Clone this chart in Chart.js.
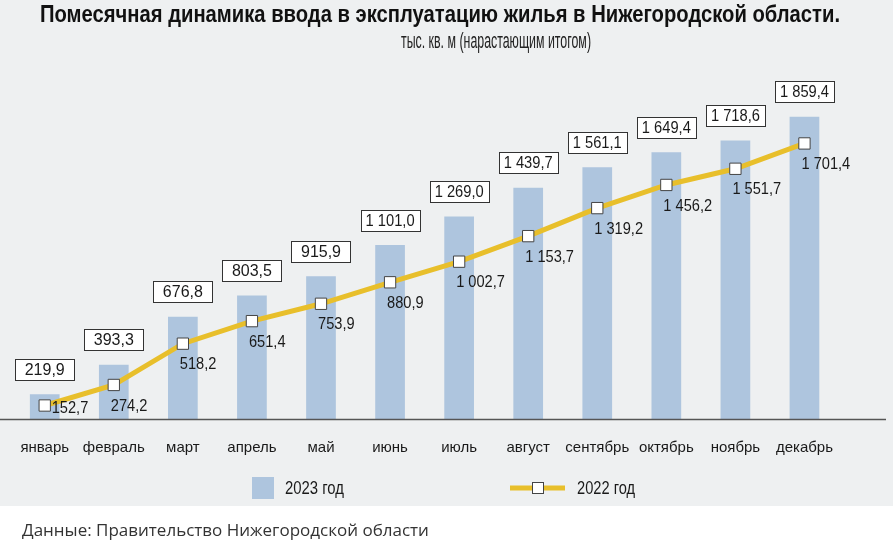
<!DOCTYPE html>
<html lang="ru">
<head>
<meta charset="utf-8">
<script src="https://cdn.jsdelivr.net/npm/chart.js@4"></script>
<style>
  html, body { margin: 0; padding: 0; background: #fff; }
  canvas { display: block; }
</style>
</head>
<body>
<canvas id="chart" width="893" height="553"></canvas>
<script>
const months = ['январь', 'февраль', 'март', 'апрель', 'май', 'июнь', 'июль',
  'август', 'сентябрь', 'октябрь', 'ноябрь', 'декабрь'];
const values2023 = [219.9, 393.3, 676.8, 803.5, 915.9, 1101.0, 1269.0, 1439.7, 1561.1, 1649.4, 1718.6, 1859.4];
const values2022 = [152.7, 274.2, 518.2, 651.4, 753.9, 880.9, 1002.7, 1153.7, 1319.2, 1456.2, 1551.7, 1701.4];
const seriesNames = ['2023 год', '2022 год'];

const TITLE = 'Помесячная динамика ввода в эксплуатацию жилья в Нижегородской области.';
const SUBTITLE = 'тыс. кв. м (нарастающим итогом)';
const SOURCE = 'Данные: Правительство Нижегородской области';

const FONT = '"Liberation Sans", Arial, sans-serif';
const BAR_COLOR = '#aec5de';
const LINE_COLOR = '#e8bf2b';
const BG_GRAY = '#eef0f1';

// 1 859,4
function fmt(v) {
  const [i, d] = v.toFixed(1).split('.');
  return i.replace(/\B(?=(\d{3})+(?!\d))/g, ' ') + ',' + d;
}

// текст, сжатый по ширине (в оригинале узкий шрифт)
function fitText(ctx, text, x, y, maxW) {
  const w = ctx.measureText(text).width;
  if (w > maxW) {
    ctx.save();
    ctx.translate(x, y);
    ctx.scale(maxW / w, 1);
    ctx.fillText(text, 0, 0);
    ctx.restore();
  } else {
    ctx.fillText(text, x, y);
  }
}

const decorPlugin = {
  id: 'decor',
  beforeDraw(chart) {
    const ctx = chart.ctx;
    ctx.save();
    ctx.fillStyle = '#fff';
    ctx.fillRect(0, 0, chart.width, chart.height);
    ctx.fillStyle = BG_GRAY;
    ctx.fillRect(0, 0, chart.width, 506);

    // заголовок
    ctx.fillStyle = '#111';
    ctx.textAlign = 'center';
    ctx.textBaseline = 'middle';
    ctx.font = 'bold 23px ' + FONT;
    fitText(ctx, TITLE, 440, 16, 800);
    ctx.font = '22px ' + FONT;
    ctx.fillStyle = '#222';
    fitText(ctx, SUBTITLE, 496, 42, 190);

    // источник
    ctx.textAlign = 'left';
    ctx.font = '17px "Open Sans", sans-serif';
    ctx.fillStyle = '#333';
    ctx.fillText(SOURCE, 22, 531);
    ctx.restore();
  },
  afterDatasetsDraw(chart) {
    const ctx = chart.ctx;
    const area = chart.chartArea;
    ctx.save();
    // ось
    ctx.strokeStyle = '#555';
    ctx.lineWidth = 1.5;
    ctx.beginPath();
    ctx.moveTo(0, area.bottom + 0.5);
    ctx.lineTo(886, area.bottom + 0.5);
    ctx.stroke();

    // подписи столбцов в рамках
    ctx.font = '16px ' + FONT;
    ctx.textAlign = 'center';
    ctx.textBaseline = 'middle';
    chart.getDatasetMeta(0).data.forEach((bar, i) => {
      const text = fmt(values2023[i]);
      const w = 59;
      const h = 21;
      const bx = Math.round(bar.x - w / 2);
      const by = Math.round(bar.y - 14.5 - h);
      ctx.fillStyle = '#fff';
      ctx.fillRect(bx, by, w, h);
      ctx.strokeStyle = '#333';
      ctx.lineWidth = 1;
      ctx.strokeRect(bx + 0.5, by + 0.5, w, h);
      ctx.fillStyle = '#1a1a1a';
      fitText(ctx, text, bar.x, by + h / 2 + 1, w - 10);
    });

    // подписи линии
    ctx.font = '17px ' + FONT;
    ctx.textAlign = 'left';
    chart.getDatasetMeta(1).data.forEach((pt, i) => {
      ctx.fillStyle = '#1a1a1a';
      let tx = pt.x - 3;
      let ty = pt.y + 21;
      // у самой оси подпись уходит вправо от маркера
      if (ty + 8 > area.bottom) {
        tx = pt.x + 7;
        ty = pt.y + 3;
      }
      ctx.save();
      ctx.translate(tx, ty);
      ctx.scale(0.86, 1);
      ctx.fillText(fmt(values2022[i]), 0, 0);
      ctx.restore();
    });
    ctx.restore();
  },
  afterDraw(chart) {
    const ctx = chart.ctx;
    ctx.save();
    // легенда
    const ly = 488;
    ctx.fillStyle = BAR_COLOR;
    ctx.fillRect(252, ly - 11, 22, 22);
    ctx.fillStyle = '#1a1a1a';
    ctx.font = '18px ' + FONT;
    ctx.textAlign = 'left';
    ctx.textBaseline = 'middle';
    fitText(ctx, seriesNames[0], 285, ly + 1, 59);

    ctx.strokeStyle = LINE_COLOR;
    ctx.lineWidth = 5;
    ctx.beginPath();
    ctx.moveTo(510, ly);
    ctx.lineTo(565, ly);
    ctx.stroke();
    ctx.fillStyle = '#fff';
    ctx.fillRect(532, ly - 6, 12, 12);
    ctx.strokeStyle = '#444';
    ctx.lineWidth = 1;
    ctx.strokeRect(532.5, ly - 5.5, 11, 11);
    ctx.fillStyle = '#1a1a1a';
    fitText(ctx, seriesNames[1], 577, ly + 1, 58);
    ctx.restore();
  }
};

new Chart(document.getElementById('chart'), {
  data: {
    labels: months,
    datasets: [
      {
        type: 'bar',
        label: seriesNames[0],
        data: values2023,
        backgroundColor: BAR_COLOR,
        barPercentage: 0.43,
        categoryPercentage: 1,
        order: 2,
      },
      {
        type: 'line',
        label: seriesNames[1],
        data: values2022,
        borderColor: LINE_COLOR,
        borderWidth: 5,
        tension: 0,
        pointStyle: 'rect',
        pointRadius: 8,
        pointBackgroundColor: '#fff',
        pointBorderColor: '#444',
        pointBorderWidth: 1,
        order: 1,
      },
    ],
  },
  options: {
    responsive: false,
    animation: false,
    events: [],
    layout: { padding: { left: 7, right: 54, top: 76, bottom: 76 } },
    plugins: {
      legend: { display: false },
      tooltip: { enabled: false },
    },
    scales: {
      x: {
        grid: { display: false, drawTicks: false },
        border: { display: false },
        ticks: {
          color: '#1a1a1a',
          font: { family: FONT, size: 15 },
          padding: 20,
          maxRotation: 0,
          autoSkip: false,
        },
      },
      y: {
        display: false,
        min: 73,
        max: 2100,
      },
    },
  },
  plugins: [decorPlugin],
});
</script>
</body>
</html>
